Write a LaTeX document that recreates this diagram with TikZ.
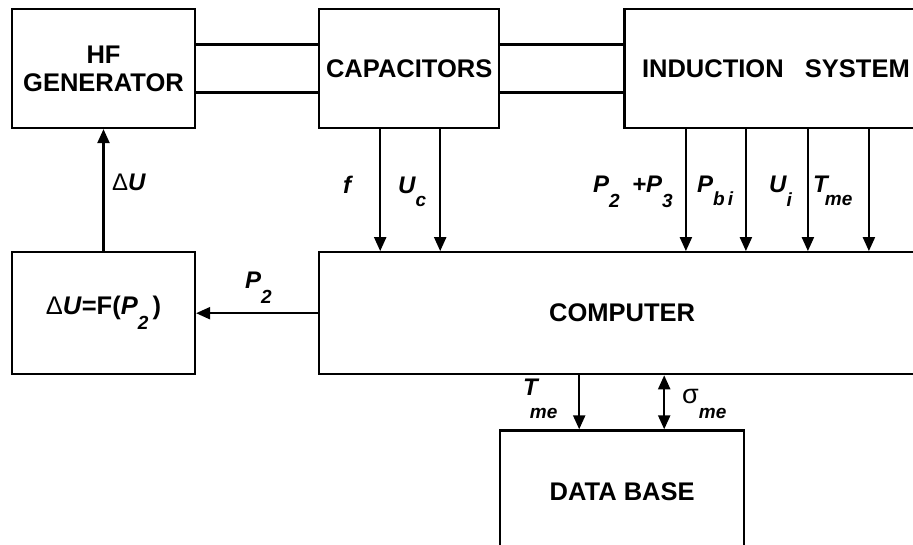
\documentclass[tikz,border=0pt]{standalone}
\usepackage{fontspec}
\setmainfont{Liberation Sans}
\usepackage{tikz}
\usetikzlibrary{arrows.meta,positioning}
\newcommand{\subfont}{\fontsize{19}{19}\selectfont}
\newcommand{\lsub}[3][-14pt]{\textit{#2}\raisebox{#1}{\subfont\textit{#3}}}
\tikzset{
  blockbox/.style={draw=black, line width=2.2pt, align=center, font=\fontsize{25.5}{28}\selectfont\bfseries, inner sep=0pt, minimum height=119pt},
  sigtext/.style={font=\fontsize{24}{24}\selectfont\bfseries\itshape, inner sep=0pt, anchor=base west},
  link/.style={line width=2.2pt},
  sarr/.style={-{Triangle[length=14pt,width=12pt]}, line width=2.2pt},
  darr/.style={{Triangle[length=14pt,width=12pt]}-{Triangle[length=14pt,width=12pt]}, line width=2.2pt}
}
\begin{document}
\begin{tikzpicture}[x=1pt,y=-1pt]
\useasboundingbox (0,0) rectangle (913,544);
\clip (0,0) rectangle (913,544);
\fill[white] (0,0) rectangle (913,544);
% top row
\node[blockbox, minimum width=183pt] (hf) at (103.5,68.5) {HF\\GENERATOR};
\node[blockbox, minimum width=180pt, right=122pt of hf] (cap) {CAPACITORS};
\node[blockbox, minimum width=303pt, right=123pt of cap] (ind) {INDUCTION\ \ \ SYSTEM};
% middle row
\node[blockbox, minimum width=183pt, minimum height=122pt, below=122pt of hf] (fun) {{\mdseries Δ}\textit{U}=F(\lsub[-15pt]{P}{2}\,)};
\node[blockbox, minimum width=606pt, minimum height=122pt, right=122pt of fun] (comp) {COMPUTER};
% bottom
\node[blockbox, minimum width=244pt, minimum height=122pt, below=54pt of comp] (db) {DATA BASE};
% power lines
\draw[link] ([yshift=24pt]hf.east) -- ([yshift=24pt]hf.east -| cap.west);
\draw[link] ([yshift=-24pt]hf.east) -- ([yshift=-24pt]hf.east -| cap.west);
\draw[link] ([yshift=24pt]cap.east) -- ([yshift=24pt]cap.east -| ind.west);
\draw[link] ([yshift=-24pt]cap.east) -- ([yshift=-24pt]cap.east -| ind.west);
% measured signals
\draw[sarr] ([xshift=-29pt]cap.south) -- ([xshift=-29pt]cap.south |- comp.north);
\draw[sarr] ([xshift=31pt]cap.south) -- ([xshift=31pt]cap.south |- comp.north);
\foreach \dx in {-90,-30,32,93}
  \draw[sarr] ([xshift=\dx pt]ind.south) -- ([xshift=\dx pt]ind.south |- comp.north);
\draw[sarr] (comp.west) -- (comp.west -| fun.east);
\draw[sarr] (fun.north) -- (hf.south);
\draw[sarr] ([xshift=-43pt]db.north |- comp.south) -- ([xshift=-43pt]db.north);
\draw[darr] ([xshift=42pt]db.north |- comp.south) -- ([xshift=42pt]db.north);
% labels
\node[sigtext] (lf) at (343,193) {f};
\node[sigtext] (luc) at (398,193) {\lsub[-13pt]{U}{c}};
\node[sigtext] (lp2) at (593,192) {\lsub[-15pt]{P}{2}};
\node[sigtext] (lp3) at (632,192) {\lsub[-15pt]{+P}{3}};
\node[sigtext] (lpbi) at (697,192) {\lsub[-13pt]{P}{b\,i}};
\node[sigtext] (lui) at (769,192) {\lsub[-14pt]{U}{i}};
\node[sigtext] (ltme) at (813,192) {\lsub[-13pt]{T\kern-3pt}{me}};
\node[sigtext] (ldu) at (112,190) {{\upshape\mdseries Δ}U};
\node[sigtext] (lpc) at (245,288) {\lsub[-15pt]{P}{2}};
\node[sigtext] (ltdb) at (523,395) {\lsub[-23pt]{T\kern-8pt}{me}};
\node[sigtext] (lsdb) at (682,403) {{\upshape\mdseries\fontsize{27}{27}\selectfont σ}\raisebox{-15pt}{\subfont\textit{me}}};
\end{tikzpicture}
\end{document}
